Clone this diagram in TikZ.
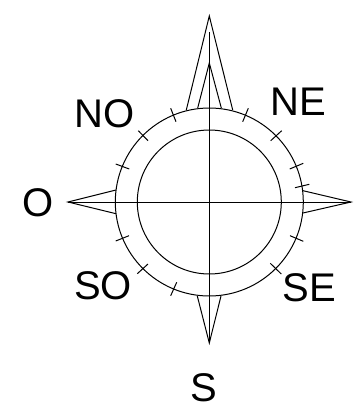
\documentclass[tikz,border=0pt]{standalone}
\usepackage{fontspec}
\setmainfont{Liberation Sans}
\tikzset{
  ln/.style={draw=black,line width=1pt,line join=miter},
  lbl/.style={anchor=base,inner sep=0pt,font=\fontsize{40}{40}\selectfont,text=black}
}
\begin{document}
\begin{tikzpicture}[x=1pt,y=-1pt]
\useasboundingbox (0,0) rectangle (361,410);
\coordinate (c) at (209.3,202);
% rings
\draw[ln] (c) circle[radius=94];
\draw[ln] (c) circle[radius=72];
% axes
\draw[ln] (209.3,32) -- (209.3,343);
\draw[ln] (68,202) -- (351,202);
% spikes
\draw[ln] (186.3,110) -- (209.3,16) -- (232.7,110);
\draw[ln] (197.7,108) -- (209.3,63) -- (221.3,108);
\draw[ln] (116,190) -- (68,202) -- (116,213.7);
\draw[ln] (303,190.7) -- (351,202) -- (303,213);
\draw[ln] (197.3,296) -- (209.3,343) -- (221,296);
% ticks
\foreach \a/\b/\p/\q in {
 170.7/108.3/176/121.7, 138.3/130.7/148/140.7, 115.7/164/129.3/169,
 248.3/108.3/242.7/121.7, 281.7/130.7/270.7/140.7, 303.3/163.3/289.7/169, 309.3/184.3/295/187.7,
 129/235.7/115.7/241, 148/264/137.3/273.7, 176.7/282.3/170.7/295.7,
 290/235.7/303.3/241.3, 270.3/263.3/281.3/274}
  \draw[ln] (\a,\b) -- (\p,\q);
% labels
\node[lbl] (ne) at (298.5,115.7) {NE};
\node[lbl] (no) at (104.5,127) {NO};
\node[lbl] (o) at (37.8,216.3) {O};
\node[lbl] (so) at (103,299.5) {SO};
\node[lbl] (se) at (309,301) {SE};
\node[lbl] (s) at (203.5,401) {S};
\end{tikzpicture}
\end{document}
